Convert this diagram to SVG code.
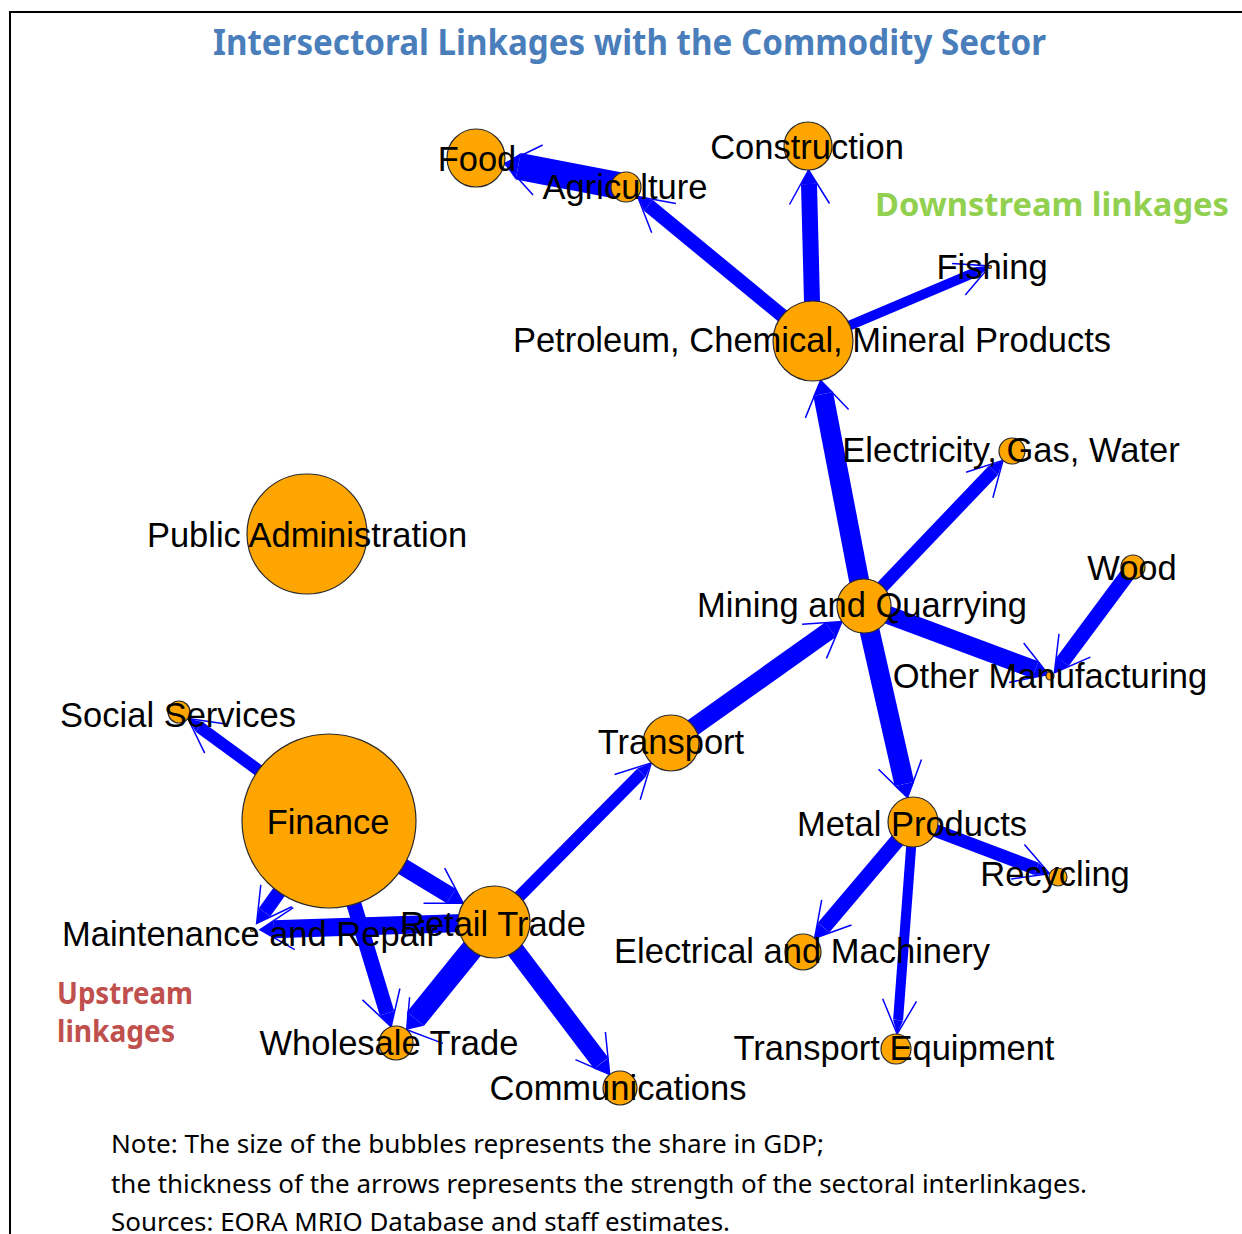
<svg xmlns="http://www.w3.org/2000/svg" width="1242" height="1234" viewBox="0 0 1242 1234">
<style>
.e line{stroke:#0000FF;stroke-linecap:butt}
.e polygon{fill:#0000FF}
.e polyline{fill:none;stroke:#0000FF;stroke-width:1.5}
.n circle{fill:#FFA500;stroke:#2a2a2a;stroke-width:1.2}
.n text{font-family:"Liberation Sans",Arial,sans-serif;font-size:34.5px;text-anchor:middle;fill:#000}
.seg{font-family:"Noto Sans","Open Sans",sans-serif}
</style>
<rect x="0" y="0" width="1242" height="1234" fill="#fff"/>
<rect x="10" y="12" width="1260" height="1260" fill="none" stroke="#000" stroke-width="2"/>
<text class="seg" x="629.5" y="55" font-size="35" font-weight="bold" fill="#4A7EBB" text-anchor="middle" textLength="833" lengthAdjust="spacingAndGlyphs">Intersectoral Linkages with the Commodity Sector</text>
<text class="seg" x="875" y="216" font-size="32" font-weight="bold" fill="#92D050" textLength="354" lengthAdjust="spacingAndGlyphs">Downstream linkages</text>
<text class="seg" x="57" y="1004" font-size="30" font-weight="bold" fill="#C0504D" textLength="136" lengthAdjust="spacingAndGlyphs">Upstream</text>
<text class="seg" x="57" y="1042" font-size="30" font-weight="bold" fill="#C0504D" textLength="118" lengthAdjust="spacingAndGlyphs">linkages</text>
<text class="seg" x="111" y="1153" font-size="26" fill="#000" textLength="713" lengthAdjust="spacingAndGlyphs">Note: The size of the bubbles represents the share in GDP;</text>
<text class="seg" x="111" y="1193" font-size="26" fill="#000" textLength="976" lengthAdjust="spacingAndGlyphs">the thickness of the arrows represents the strength of the sectoral interlinkages.</text>
<text class="seg" x="111" y="1231" font-size="26" fill="#000" textLength="619" lengthAdjust="spacingAndGlyphs">Sources: EORA MRIO Database and staff estimates.</text>

<g id="edges" class="e">
<g id="e-agri-food"><line x1="626" y1="187" x2="518.2" y2="166.2" stroke-width="27"/><polygon points="520.8,153 504.5,163.5 515.6,179.5"/><polyline points="542.7,145 504.5,163.5 533.1,195"/></g>
<g id="e-petro-agri"><line x1="813" y1="341" x2="648.4" y2="205.4" stroke-width="14"/><polygon points="652.9,200 637.6,196.5 644,210.8"/><polyline points="675.9,203.4 637.6,196.5 651.7,232.8"/></g>
<g id="e-petro-cons"><line x1="813" y1="341" x2="809" y2="184" stroke-width="16"/><polygon points="817,183.8 808.6,170 801,184.2"/><polyline points="829.5,203.5 808.6,170 789.5,204.5"/></g>
<g id="e-petro-fish"><line x1="813" y1="341" x2="977.1" y2="271.5" stroke-width="10"/><polygon points="979.1,276.1 990,266 975.2,266.9"/><polyline points="965.3,295 990,266 952.1,263.6"/></g>
<g id="e-mining-petro"><line x1="864" y1="606" x2="823.2" y2="394" stroke-width="20"/><polygon points="833,392.1 820.6,380.3 813.4,395.9"/><polyline points="848.6,409.5 820.6,380.3 805.4,417.9"/></g>
<g id="e-mining-elec"><line x1="864" y1="606" x2="993.3" y2="470.5" stroke-width="13"/><polygon points="998,475 1003,460.4 988.6,466"/><polyline points="992.9,497.8 1003,460.4 966.1,472.2"/></g>
<g id="e-mining-other"><line x1="864" y1="606" x2="1035.2" y2="669.7" stroke-width="18"/><polygon points="1032.1,678.1 1048.3,674.6 1038.3,661.3"/><polyline points="1009.1,682.4 1048.3,674.6 1023.7,643"/></g>
<g id="e-wood-other"><line x1="1133" y1="567" x2="1062.7" y2="661.6" stroke-width="15"/><polygon points="1056.7,657.1 1054.4,672.8 1068.7,666"/><polyline points="1059,633.9 1054.4,672.8 1090.4,657.1"/></g>
<g id="e-mining-metal"><line x1="864" y1="606" x2="904.4" y2="784" stroke-width="20"/><polygon points="894.7,786.2 907.5,797.6 914.2,781.7"/><polyline points="878.5,769.3 907.5,797.6 921.5,759.5"/></g>
<g id="e-transport-mining"><line x1="671" y1="743" x2="830.6" y2="629.7" stroke-width="18"/><polygon points="835.8,637 842,621.6 825.4,622.4"/><polyline points="826.5,658.4 842,621.6 802.1,624.2"/></g>
<g id="e-retail-transport"><line x1="494" y1="922" x2="641.5" y2="772.9" stroke-width="12"/><polygon points="645.7,777.1 651.3,762.9 637.2,768.6"/><polyline points="640.2,799.7 651.3,762.9 614.6,774.5"/></g>
<g id="e-metal-recycling"><line x1="913" y1="822" x2="1036.5" y2="868.8" stroke-width="13"/><polygon points="1034.2,874.9 1049.6,873.8 1038.8,862.7"/><polyline points="1011.2,879 1049.6,873.8 1024.4,844.4"/></g>
<g id="e-metal-elecmach"><line x1="913" y1="822" x2="823.6" y2="927.6" stroke-width="15"/><polygon points="817.9,922.8 814.6,938.3 829.3,932.5"/><polyline points="821.7,899.8 814.6,938.3 851.5,925"/></g>
<g id="e-metal-transeq"><line x1="913" y1="822" x2="898.1" y2="1020" stroke-width="10"/><polygon points="893.1,1019.7 897.1,1034 903.1,1020.4"/><polyline points="882.7,998.8 897.1,1034 916.5,1001.4"/></g>
<g id="e-finance-social"><line x1="329" y1="822" x2="199.2" y2="726.8" stroke-width="12"/><polygon points="202.7,722 187.9,718.5 195.7,731.6"/><polyline points="225.9,724.1 187.9,718.5 204.7,753.1"/></g>
<g id="e-finance-retail"><line x1="329" y1="822" x2="451.2" y2="896.1" stroke-width="17"/><polygon points="446.8,903.3 463.2,903.3 455.6,888.8"/><polyline points="423.5,903.2 463.2,903.3 444.7,868.2"/></g>
<g id="e-finance-maint"><line x1="329" y1="822" x2="264.7" y2="912.1" stroke-width="14"/><polygon points="259,908 256.6,923.5 270.4,916.2"/><polyline points="260.8,884.8 256.6,923.5 291.8,906.8"/></g>
<g id="e-finance-wholesale"><line x1="329" y1="822" x2="387" y2="1013.3" stroke-width="15"/><polygon points="379.9,1015.5 391.1,1026.7 394.2,1011.1"/><polyline points="362.5,999.9 391.1,1026.7 399.9,988.5"/></g>
<g id="e-retail-maint"><line x1="494" y1="922" x2="274" y2="929.2" stroke-width="18"/><polygon points="273.7,920.2 260,929.7 274.3,938.2"/><polyline points="293.3,907.6 260,929.7 294.7,949.6"/></g>
<g id="e-retail-wholesale"><line x1="494" y1="922" x2="415.5" y2="1018.9" stroke-width="22"/><polygon points="424,1025.8 406.7,1029.8 407,1011.9"/><polyline points="443,1043.4 406.7,1029.8 409.6,997.2"/></g>
<g id="e-retail-comm"><line x1="494" y1="922" x2="601.2" y2="1063.3" stroke-width="18"/><polygon points="594,1068.7 609.7,1074.5 608.4,1057.9"/><polyline points="575.5,1059.6 609.7,1074.5 605.4,1032"/></g>
</g>

<g id="nodes" class="n">
<g id="n-food"><circle cx="476" cy="158" r="29"/><text x="477" y="171">Food</text></g>
<g id="n-agriculture"><circle cx="626" cy="187" r="15"/><text x="625" y="199">Agriculture</text></g>
<g id="n-construction"><circle cx="808" cy="146" r="24"/><text x="807" y="159">Construction</text></g>
<g id="n-fishing"><circle cx="990" cy="267" r="1.5"/><text x="992" y="279">Fishing</text></g>
<g id="n-petroleum"><circle cx="813" cy="341" r="40"/><text x="812" y="352">Petroleum, Chemical, Mineral Products</text></g>
<g id="n-electricity"><circle cx="1012" cy="451" r="13"/><text x="1011" y="462">Electricity, Gas, Water</text></g>
<g id="n-publicadmin"><circle cx="307" cy="534" r="60"/><text x="307" y="547">Public Administration</text></g>
<g id="n-mining"><circle cx="864" cy="606" r="27"/><text x="862" y="617">Mining and Quarrying</text></g>
<g id="n-wood"><circle cx="1133" cy="567" r="12"/><text x="1132" y="580">Wood</text></g>
<g id="n-othermanuf"><circle cx="1050" cy="676" r="4"/><text x="1050" y="688">Other Manufacturing</text></g>
<g id="n-social"><circle cx="179" cy="712" r="11"/><text x="178" y="727">Social Services</text></g>
<g id="n-transport"><circle cx="671" cy="743" r="28"/><text x="671" y="754">Transport</text></g>
<g id="n-finance"><circle cx="329" cy="821" r="87"/><text x="328" y="834">Finance</text></g>
<g id="n-metal"><circle cx="913" cy="822" r="25"/><text x="912" y="836">Metal Products</text></g>
<g id="n-recycling"><circle cx="1058" cy="877" r="9"/><text x="1055" y="886">Recycling</text></g>
<g id="n-retail"><circle cx="494" cy="922" r="36"/><text x="493" y="936">Retail Trade</text></g>
<g id="n-maintenance"><circle cx="252" cy="930" r="1.5"/><text x="250" y="946">Maintenance and Repair</text></g>
<g id="n-elecmach"><circle cx="803" cy="952" r="18"/><text x="802" y="963">Electrical and Machinery</text></g>
<g id="n-wholesale"><circle cx="396" cy="1043" r="17"/><text x="389" y="1055">Wholesale Trade</text></g>
<g id="n-transeq"><circle cx="896" cy="1049" r="15"/><text x="894" y="1060">Transport Equipment</text></g>
<g id="n-comm"><circle cx="620" cy="1088" r="17"/><text x="618" y="1100">Communications</text></g>
</g>
</svg>
